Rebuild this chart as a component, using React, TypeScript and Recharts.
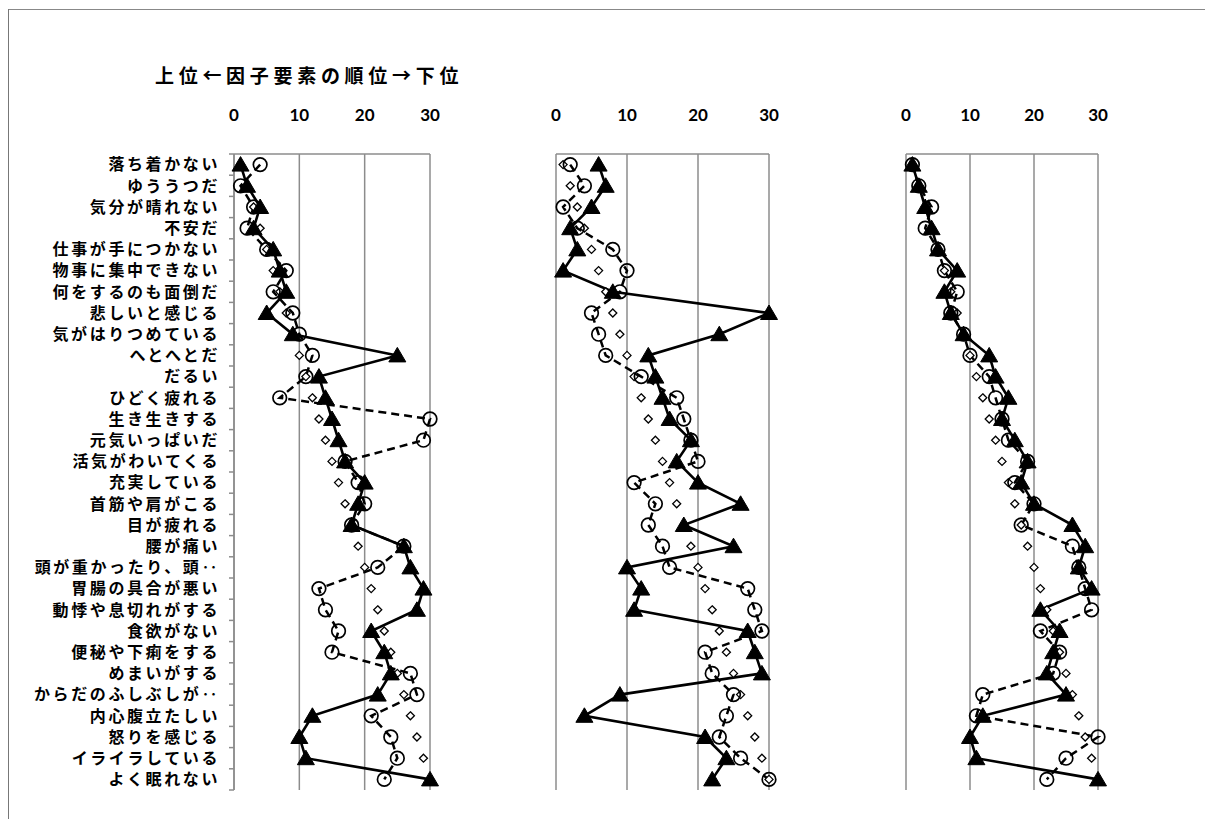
import React from 'react';
import { LineChart, Line, XAxis, YAxis, CartesianGrid } from 'recharts';

const categories = [
  '落ち着かない', 'ゆううつだ', '気分が晴れない', '不安だ', '仕事が手につかない',
  '物事に集中できない', '何をするのも面倒だ', '悲しいと感じる', '気がはりつめている', 'へとへとだ',
  'だるい', 'ひどく疲れる', '生き生きする', '元気いっぱいだ', '活気がわいてくる',
  '充実している', '首筋や肩がこる', '目が疲れる', '腰が痛い', '頭が重かったり、頭‥',
  '胃腸の具合が悪い', '動悸や息切れがする', '食欲がない', '便秘や下痢をする', 'めまいがする',
  'からだのふしぶしが‥', '内心腹立たしい', '怒りを感じる', 'イライラしている', 'よく眠れない',
];

const xTicks = [0, 10, 20, 30];

// overall rank (diamonds), same in each panel
const overallRank = [1, 2, 3, 4, 5, 6, 7, 8, 9, 10, 11, 12, 13, 14, 15, 16, 17, 18, 19, 20, 21, 22, 23, 24, 25, 26, 27, 28, 29, 30];

const p1Solid = [1, 2, 4, 3, 6, 7, 8, 5, 9, 25, 13, 14, 15, 16, 17, 20, 19, 18, 26, 27, 29, 28, 21, 23, 24, 22, 12, 10, 11, 30];
const p1Dashed = [4, 1, 3, 2, 5, 8, 6, 9, 10, 12, 11, 7, 30, 29, 17, 19, 20, 18, 26, 22, 13, 14, 16, 15, 27, 28, 21, 24, 25, 23];

const p2Solid = [6, 7, 5, 2, 3, 1, 8, 30, 23, 13, 14, 15, 16, 19, 17, 20, 26, 18, 25, 10, 12, 11, 27, 28, 29, 9, 4, 21, 24, 22];
const p2Dashed = [2, 4, 1, 3, 8, 10, 9, 5, 6, 7, 12, 17, 18, 19, 20, 11, 14, 13, 15, 16, 27, 28, 29, 21, 22, 25, 24, 23, 26, 30];

const p3Solid = [1, 2, 3, 4, 5, 8, 6, 7, 9, 13, 14, 16, 15, 17, 19, 18, 20, 26, 28, 27, 29, 21, 24, 23, 22, 25, 12, 10, 11, 30];
const p3Dashed = [1, 2, 4, 3, 5, 6, 8, 7, 9, 10, 13, 14, 15, 16, 19, 17, 20, 18, 26, 27, 28, 29, 21, 24, 23, 12, 11, 30, 25, 22];

const titleText = '上位←因子要素の順位→下位';

const buildRows = (solid: number[], dashed: number[]) =>
  categories.map((name, i) => ({ name, solid: solid[i], dashed: dashed[i], overall: overallRank[i] }));

const panel1 = buildRows(p1Solid, p1Dashed);
const panel2 = buildRows(p2Solid, p2Dashed);
const panel3 = buildRows(p3Solid, p3Dashed);

const JP = '"Noto Sans CJK JP", "Noto Sans", sans-serif';
const NUM = 'Lato, "Open Sans", sans-serif';
const GRID = '#8c8c8c';

const CHART_H = 700;
const X_AXIS_H = 54;
const M_BOTTOM = 10;
const PLOT_H = CHART_H - X_AXIS_H - M_BOTTOM;
const BAND = PLOT_H / categories.length;

const Triangle = (props: any) => {
  const { cx, cy, index } = props;
  if (cx == null || cy == null) return <g key={`t${index}`} />;
  return <path key={`t${index}`} d={`M${cx},${cy - 8} L${cx + 8.5},${cy + 6.5} L${cx - 8.5},${cy + 6.5} Z`} fill="#000" stroke="#000" strokeWidth={1} />;
};

const Circle = (props: any) => {
  const { cx, cy, index } = props;
  if (cx == null || cy == null) return <g key={`c${index}`} />;
  return <circle key={`c${index}`} cx={cx} cy={cy} r={6.8} fill="none" stroke="#000" strokeWidth={1.7} />;
};

const Diamond = (props: any) => {
  const { cx, cy, index } = props;
  if (cx == null || cy == null) return <g key={`d${index}`} />;
  return <path key={`d${index}`} d={`M${cx},${cy - 4} L${cx + 4},${cy} L${cx},${cy + 4} L${cx - 4},${cy} Z`} fill="#fff" stroke="#000" strokeWidth={1.3} />;
};

const CatTick = (props: any) => {
  const { x, y, payload, index } = props;
  const last = index === categories.length - 1;
  return (
    <g>
      <line x1={x - 5} x2={x} y1={y - BAND / 2} y2={y - BAND / 2} stroke={GRID} strokeWidth={1.5} />
      {last && <line x1={x - 5} x2={x} y1={y + BAND / 2} y2={y + BAND / 2} stroke={GRID} strokeWidth={1.5} />}
      <text x={x - 14} y={y} dy="0.36em" textAnchor="end" fontFamily={JP} fontWeight={700} fontSize={16} letterSpacing={2.6} fill="#000">
        {payload.value}
      </text>
    </g>
  );
};

const NumTick = (props: any) => {
  const { x, y, payload } = props;
  return (
    <text x={x} y={y} textAnchor="middle" fontFamily={NUM} fontWeight={700} fontSize={17} fill="#000">
      {payload.value}
    </text>
  );
};

type PanelProps = {
  data: any[];
  width: number;
  left: number;
  yWidth: number;
  showLabels: boolean;
  marginLeft: number;
};

const Panel = ({ data, width, left, yWidth, showLabels, marginLeft }: PanelProps) => (
  <div style={{ position: 'absolute', left, top: 92 }}>
    <LineChart
      width={width}
      height={CHART_H}
      data={data}
      layout="vertical"
      margin={{ top: 0, right: 10, bottom: M_BOTTOM, left: marginLeft }}
    >
      <CartesianGrid horizontal={false} vertical={true} stroke={GRID} strokeWidth={1.5} />
      <XAxis
        type="number"
        orientation="top"
        domain={[0, 30]}
        ticks={xTicks}
        height={X_AXIS_H}
        axisLine={{ stroke: GRID, strokeWidth: 1.5 }}
        tickLine={false}
        tickSize={0}
        tickMargin={33}
        tick={<NumTick />}
        interval={0}
      />
      <YAxis
        type="category"
        dataKey="name"
        width={yWidth}
        hide={!showLabels}
        padding={{ top: BAND / 2, bottom: BAND / 2 }}
        axisLine={{ stroke: GRID, strokeWidth: 1.5 }}
        tickLine={false}
        tickSize={0}
        tickMargin={0}
        tick={<CatTick />}
        interval={0}
      />
      <Line dataKey="overall" stroke="none" isAnimationActive={false} dot={Diamond} activeDot={false} />
      <Line dataKey="dashed" stroke="#000" strokeWidth={2.5} strokeDasharray="8 5" isAnimationActive={false} dot={Circle} activeDot={false} />
      <Line dataKey="solid" stroke="#000" strokeWidth={2.6} isAnimationActive={false} dot={Triangle} activeDot={false} />
    </LineChart>
  </div>
);

export default function App() {
  return (
    <div style={{ position: 'relative', width: 1205, height: 811, background: '#fff' }}>
      <div style={{ position: 'absolute', left: 0, top: 1, width: 1205, height: 1, background: '#888' }} />
      <div style={{ position: 'absolute', left: 0, top: 1, width: 1, height: 810, background: '#777' }} />
      <div
        style={{
          position: 'absolute',
          left: 147,
          top: 55,
          fontFamily: JP,
          fontWeight: 700,
          fontSize: 19,
          letterSpacing: 4.7,
          whiteSpace: 'nowrap',
          lineHeight: '24px',
        }}
      >
        {titleText}
      </div>
      <Panel data={panel1} width={432} left={0} yWidth={226} showLabels={true} marginLeft={0} />
      <Panel data={panel2} width={233} left={538} yWidth={0} showLabels={false} marginLeft={10} />
      <Panel data={panel3} width={212} left={888} yWidth={0} showLabels={false} marginLeft={10} />
    </div>
  );
}
